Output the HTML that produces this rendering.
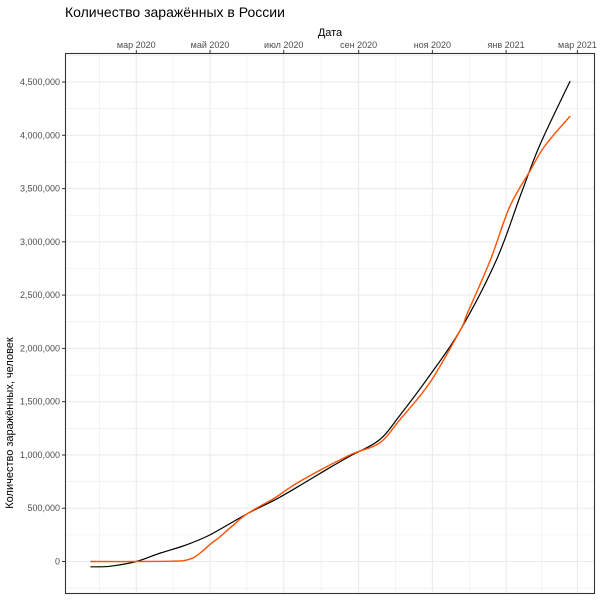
<!DOCTYPE html>
<html><head><meta charset="utf-8"><style>
body{margin:0;background:#fff;}
svg text{font-family:"Liberation Sans",sans-serif;}
</style></head><body>
<svg id="chart" width="600" height="600">
<text x="65" y="17" font-size="14" fill="#000">Количество заражённых в России</text>
<text x="330" y="36" font-size="11" fill="#000" text-anchor="middle">Дата</text>
<text transform="translate(13,423) rotate(-90)" font-size="11" fill="#000" text-anchor="middle">Количество заражённых, человек</text>
<g id="grid"></g><g id="axes"></g><g id="series"></g>
<rect x="65.5" y="53.5" width="529" height="540" fill="none" stroke="#333" stroke-width="1.1"/>
</svg>
<script>
const xTickLabels=["мар 2020","май 2020","июл 2020","сен 2020","ноя 2020","янв 2021","мар 2021"];
const xTickDays=[0,61,122,184,245,306,365];
const yTicks=[0,500000,1000000,1500000,2000000,2500000,3000000,3500000,4000000,4500000];
const actualDays=[-38,0,30,40,48,55,61,69,80,92,115,135,177,201,218,243,268,274,293,309,326,338,359];
const actualValues=[0,0,3000,10000,40000,100000,160000,230000,340000,450000,600000,750000,1000000,1110000,1330000,1680000,2170000,2330000,2830000,3330000,3670000,3900000,4180000];
const fitDays=[-38,-22,0,20,40,61,92,115,135,160,177,201,218,243,268,298,318,334,359];
const fitValues=[-50000,-45000,0,80000,150000,250000,450000,580000,710000,880000,990000,1140000,1370000,1750000,2170000,2830000,3440000,3910000,4510000];
const X=d=>136.3+d*1.2085;
const Y=v=>561.5-v/1e6*106.55;
const NS="http://www.w3.org/2000/svg";
function mk(tag,attrs,parent){const e=document.createElementNS(NS,tag);for(const k in attrs)e.setAttribute(k,attrs[k]);parent.appendChild(e);return e;}
const grid=document.getElementById('grid'),axes=document.getElementById('axes'),series=document.getElementById('series');
for(let i=-1;i<xTickDays.length;i++){
  const a=i<0?xTickDays[0]-61:xTickDays[i],b=i+1<xTickDays.length?xTickDays[i+1]:xTickDays[i]+59;
  const x=X((a+b)/2);
  if(x>66&&x<594){const l=mk('line',{x1:x,x2:x,y1:54,y2:593,stroke:'#ebebeb','stroke-width':0.6},grid);
  
  }
}
for(let v=-250000;v<=4750000;v+=500000){const y=Y(v);
  if(y>54&&y<593){const l=mk('line',{x1:66,x2:594,y1:y,y2:y,stroke:'#ebebeb','stroke-width':0.6},grid);
  
  }}
xTickDays.forEach((d,i)=>{const x=X(d);
  const l=mk('line',{x1:x,x2:x,y1:54,y2:593,stroke:'#ebebeb','stroke-width':1.1},grid);
  
  
  const t=mk('line',{x1:x,x2:x,y1:50,y2:54,stroke:'#333','stroke-width':1},axes);
  
  
  const tx=mk('text',{x:x,y:48,'font-size':9,fill:'#4d4d4d','text-anchor':'middle'},axes);
  tx.textContent=xTickLabels[i];
  
  });
yTicks.forEach(v=>{const y=Y(v);
  const l=mk('line',{x1:66,x2:594,y1:y,y2:y,stroke:'#ebebeb','stroke-width':1.1},grid);
  
  
  const t=mk('line',{x1:62,x2:66,y1:y,y2:y,stroke:'#333','stroke-width':1},axes);
  
  
  const tx=mk('text',{x:60,y:y+3,'font-size':9,fill:'#4d4d4d','text-anchor':'end'},axes);
  tx.textContent=v.toLocaleString('en-US');
  
  });
function path(ds,vs){
  const p=ds.map((d,i)=>[X(d),Y(vs[i])]);
  let s='M'+p[0][0].toFixed(1)+','+p[0][1].toFixed(1);
  for(let i=0;i<p.length-1;i++){
    const p0=p[Math.max(0,i-1)],p1=p[i],p2=p[i+1],p3=p[Math.min(p.length-1,i+2)];
    const k=1/6;
    const c1=[p1[0]+(p2[0]-p0[0])*k,p1[1]+(p2[1]-p0[1])*k];
    const c2=[p2[0]-(p3[0]-p1[0])*k,p2[1]-(p3[1]-p1[1])*k];
    s+='C'+c1.map(n=>n.toFixed(1)).join(',')+' '+c2.map(n=>n.toFixed(1)).join(',')+' '+p2.map(n=>n.toFixed(1)).join(',');
  }
  return s;
}
const fit=mk('path',{d:path(fitDays,fitValues),fill:'none',stroke:'#000','stroke-width':1.2},series);


const act=mk('path',{d:path(actualDays,actualValues),fill:'none',stroke:'#ff4500','stroke-width':1.4},series);


const act2=mk('path',{d:path(actualDays,actualValues),fill:'none',stroke:'#ffa500','stroke-width':0.5,'stroke-dasharray':'1 2'},series);


</script>
</body></html>
